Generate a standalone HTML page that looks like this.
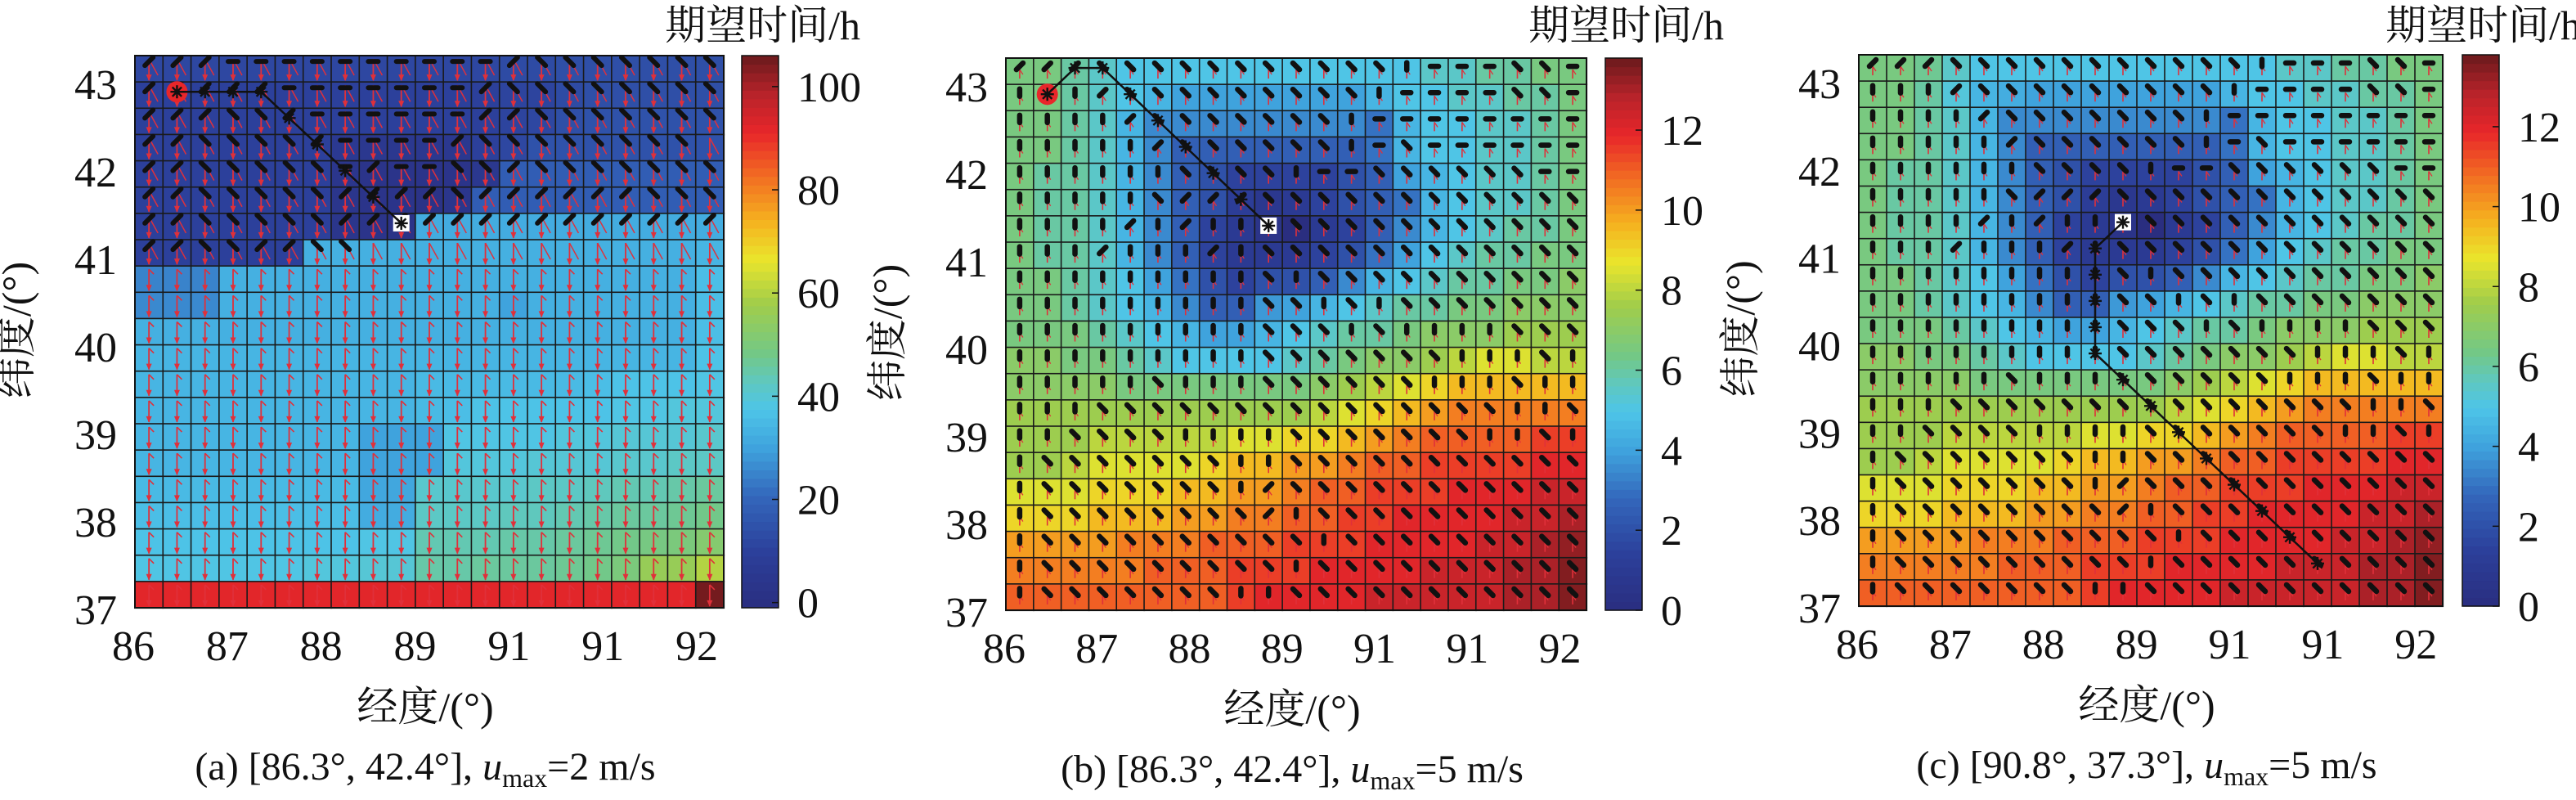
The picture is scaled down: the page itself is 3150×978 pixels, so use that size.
<!DOCTYPE html>
<html><head><meta charset="utf-8">
<style>
html,body{margin:0;padding:0;background:#fff;}
svg{display:block;}
text{fill:#111;font-family:"Liberation Serif","Noto Serif CJK SC",serif;}
</style></head>
<body>
<svg id="fig" width="3150" height="978" viewBox="0 0 3150 978" xmlns="http://www.w3.org/2000/svg"></svg>
<script>
// ---------- DATA ----------
const xTickLabels = ["86","87","88","89","91","91","92"];
const yTickLabels = ["43","42","41","40","39","38","37"];
const cbarTicksA = [0,20,40,60,80,100];
const cbarTicksB = [0,2,4,6,8,10,12];
const rangeA = [-1,106];
const rangeB = [0,13.8];
const valuesA = [
[12,12,12,12,12,12,12,12,12,12,12,12,12,13,13,14,14,14,14,14,14],
[10,10,10,10,10,10,10,10,10,10,10,10,10,11,11,13,14,14,14,14,14],
[10,10,10,10,10,10,10,10,10,10,10,10,10,11,12,14,15,15,15,15,15],
[10,10,10,10,10,10,10,6,5,5,5,5,10,12,15,15,15,15,15,15,15],
[10,10,10,10,10,10,10,4,3,3,3,3,5,18,18,18,18,18,18,18,18],
[10,10,10,10,10,10,10,4,3,3,2,4,18,18,18,18,18,18,18,18,18],
[10,10,10,10,10,10,10,4,3,2,32,32,32,32,32,32,32,32,32,32,32],
[10,10,10,10,10,10,33,33,33,33,33,33,33,33,33,33,33,33,33,33,34],
[25,25,25,33,33,33,33,33,33,33,33,33,33,33,33,33,33,33,33,33,36],
[26,26,26,33,33,33,33,33,33,33,33,33,33,30,33,33,33,33,33,33,36],
[33,33,33,33,33,33,33,33,33,33,33,33,33,33,33,33,33,33,33,33,36],
[34,34,34,34,34,34,34,34,34,34,34,34,34,34,34,34,34,34,34,34,37],
[34,34,34,34,34,34,34,34,34,34,35,35,35,35,35,35,36,37,37,37,38],
[34,34,34,34,34,34,34,34,34,34,35,36,37,37,37,37,37,38,38,39,39],
[34,34,34,34,34,34,34,34,30,30,30,38,38,38,38,39,39,40,40,40,41],
[34,34,34,34,34,34,34,34,30,30,30,39,39,39,40,40,40,41,41,42,42],
[35,35,35,35,35,35,35,35,31,31,41,41,41,41,42,42,43,44,44,45,46],
[36,36,36,36,36,36,36,36,32,32,42,42,42,43,43,44,45,46,46,47,48],
[37,37,37,37,37,37,37,37,38,38,44,44,44,45,45,46,47,48,49,50,52],
[38,38,38,38,38,38,39,39,40,40,45,45,46,46,46,47,48,50,56,56,60],
[92,92,92,92,92,92,92,92,92,92,92,92,92,92,92,92,92,92,92,92,105]
];
const valuesB = [
[6.5,6.5,6,5.5,5,5,5,5,5,5,5,5,5,5,5,5.5,5.5,6,6,6.5,6.5],
[6.5,6.5,6,5.5,5,4.5,4,4,4,4,4,4,4,4.5,5,5,5.5,5.5,6,6,6.5],
[6.5,6.5,6,5.5,4.5,3.5,3.5,3.5,3.5,3.5,3.5,3.5,3.5,3,4.5,5,5,5.5,5.5,6,6.5],
[6.5,6.5,6,5.5,4.5,3.5,2.5,2.5,2.5,2.5,2.5,2.5,2.5,3,4.5,5,5,5.5,5.5,6,6.5],
[6.5,6,6,5.5,4.5,3.5,2.5,2,1.5,1.5,1.5,1.5,2,2.5,4,4.5,5,5.5,5.5,6,6.5],
[6.5,6,6,5.5,4.5,3.5,2.5,2,1.2,0.8,1,1.5,2,2.5,3,4.5,5,5.5,5.5,6,6.5],
[6.5,6,6,5.5,4.5,3.5,2.5,1.5,1,0.5,0,1,1.5,2.5,3.5,4.5,5,5.5,6,6,6.5],
[6.5,6,6,5.5,4.5,3.5,2.5,1.5,1,1,1,1.5,2,3,4,5,5.5,6,6,6.5,6.5],
[6.5,6.5,6,5.5,5,4,3,2,1.5,2,2,2.5,3.5,4.5,5,5.5,6,6,6.5,6.5,7],
[6.5,6.5,6,5.5,5,4.5,3.5,2.5,2.5,3.8,4,4.5,5,5.5,6,6,6.5,6.5,7,7,7],
[6.5,6.5,6.5,6,5.5,5,4.5,4,4,4.5,5,5.5,6,6,6.5,7,7,7,7.5,7.5,7.5],
[7,7,6.5,6.5,6,5.5,5,5,5,5,5.5,6,6.5,7,7,7.5,8,8.5,8.5,8,8],
[7,7,7,7,6.5,6.5,6.5,6.5,6.5,6.5,6.5,7,7.5,8,8.5,9,9.5,9.5,9.5,9.5,9.5],
[7.5,7.5,7.5,7.5,7.5,7.5,7.5,7.5,7.5,7.5,7.5,8,8.5,9,9.5,10,10.5,10.5,10.5,10.5,10.5],
[7.5,7.5,7.5,8,8,8,8,8,8.5,8.5,9,9,9.5,10,10.5,11,11,11,11,11.5,11.5],
[7.5,7.5,8,8.5,8.5,8.5,8.5,9,9.5,9.5,10,10,10.5,11,11,11.5,11.5,11.5,11.5,12,12],
[8.5,8.5,8.5,9,9,9,9.5,9.5,10,10,10.5,11,11,11.5,11.5,11.5,12,12,12,12.5,12.5],
[9,9,9,9.5,9.5,9.5,10,10,10.5,10.5,11,11,11.5,11.5,12,12,12,12,12.5,12.5,13],
[10,10,10,10,10.5,10.5,10.5,11,11,11,11.5,11.5,11.5,12,12,12,12,12.5,12.5,13,13.3],
[10.5,10.5,10.5,10.5,10.5,11,11,11,11.5,11.5,11.5,12,12,12,12,12.5,12.5,12.5,13,13,13.5],
[11,11,11,11,11,11,11,11,11.5,12,12,12,12,12.5,12.5,12.5,12.5,12.5,13,13,13.5]
];
const valuesC = [
[6.5,6.5,6.2,5.5,5,5,5,5,5,5,5,5,5,5,5,5.5,5.5,6,6,6.5,6.5],
[6.5,6.5,6,5.2,4.5,4.3,4,4,4,4,4,4,4,4.5,5,5,5.5,5.5,6,6,6.5],
[6.5,6.5,6,5.5,4.5,3.5,3.5,3.5,3.5,3.5,3.5,3.5,3.5,3,4.5,5,5,5.5,5.5,6,6.5],
[6.5,6.5,6,5.5,4.5,3.5,2.5,2.5,2.5,2.5,2.5,2.5,2.5,3,4.5,5,5,5.5,5.5,6,6.5],
[6.5,6,6,5.5,4.5,3.5,2.5,2,1.5,1.5,1.5,1.5,2,2.5,4,4.5,5,5.5,5.5,6,6.5],
[6.5,6,6,5.5,4.5,3.5,2.5,2,1.2,0.8,1,1.5,2,2.5,3,4.5,5,5.5,5.5,6,6.5],
[6.5,6,6,5.5,4.5,3.5,2.5,1.5,1,0.5,0,1,1.5,2.5,3.5,4.5,5,5.5,6,6,6.5],
[6.5,6,6,5.5,4.5,3.5,2.5,1.5,1,1,1,1.5,2,3,4,5,5.5,6,6,6.5,6.5],
[6.5,6.5,6,5.5,5,4,3,2,1.5,2,2,2.5,3.5,4.5,5,5.5,6,6,6.5,6.5,7],
[6.5,6.5,6,5.5,5,4.5,3.5,2.5,2.5,3.8,4,4.5,5,5.5,6,6,6.5,6.5,7,7,7],
[6.5,6.5,6.5,6,5.5,5,4.5,4,4,4.5,5,5.5,6,6,6.5,7,7,7,7.5,7.5,7.5],
[7,7,6.5,6.5,6,5.5,5,5,5,5,5.5,6,6.5,7,7,7.5,8,8.5,8.5,8,8],
[7,7,7,7,6.5,6.5,6.5,6.5,6.5,6.5,6.5,7,7.5,8,8.5,9,9.5,9.5,9.5,9.5,9.5],
[7.5,7.5,7.5,7.5,7.5,7.5,7.5,7.5,7.5,7.5,7.5,8,8.5,9,9.5,10,10.5,10.5,10.5,10.5,10.5],
[7.5,7.5,7.5,8,8,8,8,8,8.5,8.5,9,9,9.5,10,10.5,11,11,11,11,11.5,11.5],
[7.5,7.5,8,8.5,8.5,8.5,8.5,9,9.5,9.5,10,10,10.5,11,11,11.5,11.5,11.5,11.5,12,12],
[8.5,8.5,8.5,9,9,9,9.5,9.5,10,10,10.5,11,11,11.5,11.5,11.5,12,12,12,12.5,12.5],
[9,9,9,9.5,9.5,9.5,10,10,10.5,10.5,11,11,11.5,11.5,12,12,12,12,12.5,12.5,13],
[10,10,10,10,10.5,10.5,10.5,11,11,11,11.5,11.5,11.5,12,12,12,12,12.5,12.5,13,13.3],
[10.5,10.5,10.5,10.5,10.5,11,11,11,11.5,11.5,11.5,12,12,12,12,12.5,12.5,12.5,13,13,13.5],
[11,11,11,11,11,11,11,11,11.5,12,12,12,12,12.5,12.5,12.5,12.5,12.5,13,13,13.5]
];
// glyph orientation codes per row: v vertical, d "\" diagonal, u "/" diagonal, h horizontal
const glyphB = [
"uuudddddddddddvhhhddh","vvvudddddddddvhhhhddh","vvvvudddddddvhhhhhhhh","vvvvvuddddddvhdhhhhhh",
"vvvvvvddddvhhddddddhh","vvvvvduuudddddddddddd","vvvvuvuvvdddddddddddd","vvvuvvvuvdddddddddddd",
"vvvvvvvvvdvdddddddddd","vvvvvvvvvddvdvddddddd","vvvvvvvvvdddvdvvvvddd","vvvvvvvvvdddddddvvvdv",
"vvvvvdvvvddddddvvvdvv","vvvdddddddddddddddvvd","vvddddvvvvdddddddvvdv","vdddddddvvddddddddddd",
"vdddddddvuddddddddddd","vdddddddduvdddddddddd","vddddddddddvddddddddd","vdddddddddvdddddddddd","vdddddddvvddddddddddd"
];
const glyphA = [
"uuuhhhhhhhhhhuddddddd","uuuuuhhhhhhhudddddddd","uuudduhhhhhhuuddddddd","uuddddu hhhhuddddddd d",
"uudddddhuhhddudddddd d","uuddddduuuuduuuuuuddd","uuddddduuuuuuuuuuuuu u","uudduudd"
];
const pathA = [[1,1],[2,1],[3,1],[4,1],[5,2],[6,3],[7,4],[8,5],[9,6]];
const pathB = [[1,1],[2,0],[3,0],[4,1],[5,2],[6,3],[7,4],[8,5],[9,6]];
const pathC = [[9,6],[8,7],[8,8],[8,9],[8,10],[8,11],[9,12],[10,13],[11,14],[12,15],[13,16],[14,17],[15,18],[16,19]];

// ---------- RENDER ----------
const NS="http://www.w3.org/2000/svg";
const svg=document.getElementById('fig');
function el(tag,attrs,parent){const e=document.createElementNS(NS,tag);for(const k in attrs)e.setAttribute(k,attrs[k]);if(tag==='text')e.setAttribute('style','font-family:"Liberation Serif","Noto Serif CJK SC",serif');(parent||svg).appendChild(e);return e;}
const stops=[[0,[42,46,128]],[0.1,[44,63,154]],[0.2,[51,102,187]],[0.29,[63,163,221]],[0.36,[78,197,232]],[0.41,[95,200,190]],[0.46,[115,200,135]],[0.55,[160,205,75]],[0.63,[234,229,44]],[0.7,[245,178,31]],[0.78,[242,110,34]],[0.86,[232,38,42]],[0.93,[184,35,42]],[1,[106,26,28]]];
function cmap(t){t=Math.max(0,Math.min(1,t));for(let i=1;i<stops.length;i++){if(t<=stops[i][0]){const a=stops[i-1],b=stops[i];const f=(t-a[0])/(b[0]-a[0]);const c=a[1].map((v,j)=>Math.round(v+(b[1][j]-v)*f));return `rgb(${c[0]},${c[1]},${c[2]})`;}}return 'rgb(106,26,28)';}

function panel(cfg){
  const g=el('g',{});
  
  
  const N=21, cw=cfg.w/N, ch=cfg.h/N;
  const xs=c=>cfg.x+c*cw, ys=r=>cfg.y+r*ch;
  const vt=v=>(v-cfg.range[0])/(cfg.range[1]-cfg.range[0]);
  const cells=el('g',{},g);
  
  
  cfg.values.forEach((row,r)=>row.forEach((v,c)=>{
    const rc=el('rect',{x:xs(c),y:ys(r),width:cw+0.3,height:ch+0.3,fill:cmap(vt(v)),stroke:'#1a1a1a','stroke-width':1.6},cells);
    
    
  }));
  const gl=el('g',{},g);
  
  
  for(let r=0;r<N;r++)for(let c=0;c<N;c++){
    const cx=xs(c)+cw/2, cy=ys(r)+ch/2;
    if(cfg.mode==='a'){
      el('line',{x1:cx,y1:cy-12,x2:cx,y2:cy+14,stroke:'#e0303a','stroke-width':1.8},gl);
      el('path',{d:`M${cx-3.5},${cy+7} L${cx},${cy+15} L${cx+3.5},${cy+7}Z`,fill:'#e0303a'},gl);
      if(r<8){el('line',{x1:cx,y1:cy-12,x2:cx+11,y2:cy+8,stroke:'#e0303a','stroke-width':1.5},gl);}
      else{el('line',{x1:cx,y1:cy-12,x2:cx+6,y2:cy-6,stroke:'#e0303a','stroke-width':1.6},gl);}
      const code=(glyphA[r]||'').replace(/ /g,'')[c];
      if(r<8 && code){
        let dx=0,dy=0;
        if(code==='u'){dx=5;dy=-5;} else if(code==='d'){dx=5;dy=5;} else if(code==='h'){dx=6;dy=0;} else {dx=0;dy=6;}
        el('line',{x1:cx-dx,y1:cy-9-dy,x2:cx+dx,y2:cy-9+dy,stroke:'#111','stroke-width':6,'stroke-linecap':'round'},gl);
      }
    } else {
      el('line',{x1:cx,y1:cy-2,x2:cx,y2:cy+9,stroke:'#e0303a','stroke-width':1.6},gl);
      el('line',{x1:cx,y1:cy-2,x2:cx+4,y2:cy+4,stroke:'#e0303a','stroke-width':1.3},gl);
      const code=cfg.glyph[r][c]||'v';
      let dx=0,dy=0;
      if(code==='u'){dx=4;dy=-4;} else if(code==='d'){dx=4;dy=4;} else if(code==='h'){dx=5;dy=0;} else {dx=0;dy=4.5;}
      el('line',{x1:cx-dx,y1:cy-6-dy,x2:cx+dx,y2:cy-6+dy,stroke:'#111','stroke-width':6.5,'stroke-linecap':'round'},gl);
    }
  }
  el('rect',{x:cfg.x,y:cfg.y,width:cfg.w,height:cfg.h,fill:'none',stroke:'#111','stroke-width':2},g);
  const pts=cfg.path.map(p=>[xs(p[0])+cw/2,ys(p[1])+ch/2-4]);
  if(cfg.circle){const s=pts[0];const ci=el('circle',{cx:s[0],cy:s[1],r:13,fill:'#e8262a'},g);}
  const tgt=cfg.target?pts[pts.length-1]:pts[0];
  const sq=el('rect',{x:tgt[0]-10,y:tgt[1]-10,width:20,height:20,fill:'#fff'},g);
  
  
  const pl=el('polyline',{points:pts.map(p=>p.join(',')).join(' '),fill:'none',stroke:'#111','stroke-width':2.5},g);
  
  
  pts.forEach(p=>{for(let a=0;a<4;a++){const ang=a*Math.PI/4;el('line',{x1:p[0]-8*Math.cos(ang),y1:p[1]-8*Math.sin(ang),x2:p[0]+8*Math.cos(ang),y2:p[1]+8*Math.sin(ang),stroke:'#111','stroke-width':2.4},g);}});
  xTickLabels.forEach((t,i)=>{const tx=el('text',{x:cfg.x-2+i*cfg.w*0.1595,y:cfg.y+cfg.h+64,'font-size':52,'text-anchor':'middle'},g);tx.textContent=t;});
  yTickLabels.forEach((t,i)=>{const ty=el('text',{x:cfg.x-22,y:cfg.y+35+i*cfg.h*0.1585+18,'font-size':52,'text-anchor':'end'},g);ty.textContent=t;});
  const xl=el('text',{x:cfg.x+cfg.w/2-5,y:cfg.y+cfg.h+138,'font-size':50,'text-anchor':'middle'},g);xl.textContent='经度/(°)';
  
  const yl=el('text',{x:0,y:0,'font-size':50,'text-anchor':'middle',transform:`translate(${cfg.x-128},${cfg.y+cfg.h/2-2}) rotate(-90)`},g);yl.textContent='纬度/(°)';
  
  const cb=el('g',{},g);
  const steps=64;for(let i=0;i<steps;i++){el('rect',{x:cfg.cbx,y:cfg.y+cfg.h-(i+1)*cfg.h/steps,width:45,height:cfg.h/steps+0.6,fill:cmap((i+0.5)/steps)},cb);}
  el('rect',{x:cfg.cbx,y:cfg.y,width:45,height:cfg.h,fill:'none',stroke:'#111','stroke-width':1.5},cb);
  const cy=v=>cfg.y+cfg.h-(v-cfg.range[0])/(cfg.range[1]-cfg.range[0])*cfg.h;
  cfg.cticks.forEach(v=>{const y=cy(v);el('line',{x1:cfg.cbx+37,y1:y,x2:cfg.cbx+45,y2:y,stroke:'#111','stroke-width':1.5},cb);
    const t=el('text',{x:cfg.cbx+68,y:y+18,'font-size':52},cb);t.textContent=v;});
  const ct=el('text',{x:cfg.cbx+145,y:48,'font-size':50,'text-anchor':'end'},g);ct.textContent='期望时间/h';
  
  const cap=el('text',{x:cfg.x+cfg.w/2-5,y:cfg.y+cfg.h+210,'font-size':48,'text-anchor':'middle'},g);
  
  const s1=el('tspan',{},cap);s1.textContent=cfg.cap1;
  const s2=el('tspan',{'font-style':'italic'},cap);s2.textContent='u';
  const s3=el('tspan',{'font-size':32,dy:9},cap);s3.textContent='max';
  const s4=el('tspan',{dy:-9},cap);s4.textContent=cfg.cap2;
}
panel({name:'panel-a',x:165,y:68,w:720,h:675,values:valuesA,range:rangeA,mode:'a',path:pathA,circle:true,target:true,cbx:907,cticks:cbarTicksA,cap1:'(a) [86.3°, 42.4°], ',cap2:'=2 m/s'});
panel({name:'panel-b',x:1230,y:71,w:710,h:675,values:valuesB,range:rangeB,mode:'b',glyph:glyphB,path:pathB,circle:true,target:true,cbx:1963,cticks:cbarTicksB,cap1:'(b) [86.3°, 42.4°], ',cap2:'=5 m/s'});
panel({name:'panel-c',x:2273,y:67,w:714,h:674,values:valuesC,range:rangeB,mode:'b',glyph:glyphB,path:pathC,circle:false,target:false,cbx:3011,cticks:cbarTicksB,cap1:'(c) [90.8°, 37.3°], ',cap2:'=5 m/s'});
</script>
</body></html>
